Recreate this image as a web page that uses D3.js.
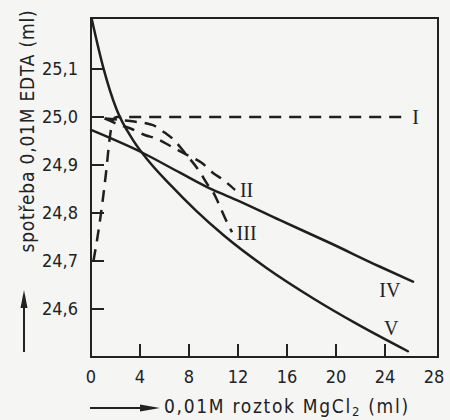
<html>
<head>
<script src="https://d3js.org/d3.v7.min.js"></script>
<style>
body { margin: 0; background: #f5f5f3; }
text {
  font-family: 'DejaVu Sans Condensed', 'Liberation Sans Narrow', 'DejaVu Sans', sans-serif;
  fill: #222;
}
.frame { fill: none; stroke: #222; stroke-width: 2; }
.tick { stroke: #222; stroke-width: 2; }
.curve { fill: none; stroke: #1f1f1f; stroke-width: 2.5; stroke-linecap: round; }
.dashed { stroke-dasharray: 12,8; stroke-linecap: butt; }
.roman { font-family: 'Liberation Serif', 'DejaVu Serif', serif; font-size: 20px; }
</style>
</head>
<body>
<svg></svg>
<script>

var width = 450,
    height = 420;

// tick values / labels
var xTicks = [0, 4, 8, 12, 16, 20, 24, 28];
var yTicks = [24.6, 24.7, 24.8, 24.9, 25.0, 25.1];

// curves: [ml MgCl2, ml EDTA]
var curveI = [[0.2, 24.70], [0.71, 24.78], [1.21, 24.88], [1.55, 24.96], [1.8, 24.995], [2.1, 25.0], [25.75, 25.0]];
var curveII = [[1.1, 24.997], [2.2, 24.985], [3.23, 24.976], [4.44, 24.962], [5.25, 24.956], [6.66, 24.937],
               [8.07, 24.918], [9.06, 24.904], [9.99, 24.883], [10.79, 24.869], [11.76, 24.848]];
var curveIII = [[1.14, 24.997], [3.0, 24.992], [5.06, 24.983], [6.04, 24.967], [6.61, 24.956], [7.67, 24.925],
                [8.9, 24.885], [9.55, 24.858], [9.96, 24.844], [10.29, 24.827], [10.93, 24.79], [11.51, 24.76]];
var curveIV = [[0, 24.973], [4.24, 24.925], [7.26, 24.884], [9.96, 24.848], [11.9, 24.827], [15.43, 24.785],
               [19.47, 24.738], [23.6, 24.688], [26.29, 24.657]];
var curveV = [[0.05, 25.205], [0.98, 25.105], [2.1, 25.015], [3.43, 24.952], [4.65, 24.91], [6.5, 24.858],
              [8.57, 24.805], [10.9, 24.752], [14.3, 24.686], [18.15, 24.622], [21.7, 24.569], [25.87, 24.512]];

var curves = [
  { name: 'I', pts: curveI, dashed: true },
  { name: 'II', pts: curveII, dashed: true },
  { name: 'III', pts: curveIII, dashed: true },
  { name: 'IV', pts: curveIV, dashed: false },
  { name: 'V', pts: curveV, dashed: false }
];

// roman labels next to the curves
var labelNames = ['I', 'II', 'III', 'IV', 'V'];
var labelX = [26.5, 12.7, 12.7, 24.4, 24.5];
var labelY = [25.0, 24.848, 24.758, 24.64, 24.56];

// plot box (note: "top" is taken by window.top)
var boxLeft = 91, boxRight = 438, boxTop = 18, boxBottom = 357;

var x = d3.scaleLinear().domain([0, 28]).range([boxLeft, 434]);
var y = d3.scaleLinear().domain([24.5, 25.2]).range([boxBottom, 21]);

var svg = d3.select('svg')
  .attr('width', width)
  .attr('height', height);

svg.append('rect')
  .attr('width', width)
  .attr('height', height)
  .attr('fill', '#f5f5f3');

// frame
svg.append('rect')
  .attr('class', 'frame')
  .attr('x', boxLeft)
  .attr('y', boxTop)
  .attr('width', boxRight - boxLeft)
  .attr('height', boxBottom - boxTop);

// inward ticks
svg.selectAll('line.xtick')
    .data(xTicks.filter(function(d) { return d > 0 && d < 28; }))
  .enter().append('line')
    .attr('class', 'tick')
    .attr('x1', function(d) { return x(d); })
    .attr('x2', function(d) { return x(d); })
    .attr('y1', boxBottom)
    .attr('y2', boxBottom - 13);

svg.selectAll('line.ytick')
    .data(yTicks)
  .enter().append('line')
    .attr('class', 'tick')
    .attr('x1', boxLeft)
    .attr('x2', boxLeft + 13)
    .attr('y1', function(d) { return y(d); })
    .attr('y2', function(d) { return y(d); });

// tick labels (comma decimals)
svg.selectAll('text.xlab')
    .data(xTicks)
  .enter().append('text')
    .attr('x', function(d) { return x(d); })
    .attr('y', 377)
    .attr('dy', '0.35em')
    .attr('text-anchor', 'middle')
    .style('font-size', '18px')
    .text(function(d) { return d; });

svg.selectAll('text.ylab')
    .data(yTicks)
  .enter().append('text')
    .attr('x', 78)
    .attr('y', function(d) { return y(d); })
    .attr('dy', '0.35em')
    .attr('text-anchor', 'end')
    .style('font-size', '18px')
    .text(function(d) { return d3.format('.1f')(d).replace('.', ','); });

// curves
var line = d3.line()
  .x(function(d) { return x(d[0]); })
  .y(function(d) { return y(d[1]); })
  .curve(d3.curveMonotoneX);

svg.selectAll('path.curve')
    .data(curves)
  .enter().append('path')
    .attr('class', function(d) { return d.dashed ? 'curve dashed' : 'curve'; })
    .attr('d', function(d) { return line(d.pts); });

svg.selectAll('text.roman')
    .data(labelNames)
  .enter().append('text')
    .attr('class', 'roman')
    .attr('x', function(d, i) { return x(labelX[i]); })
    .attr('y', function(d, i) { return y(labelY[i]); })
    .attr('dy', '0.35em')
    .attr('text-anchor', 'middle')
    .text(function(d) { return d; });

// y title with arrow
svg.append('text')
  .attr('transform', 'translate(27,131)rotate(-90)')
  .attr('dy', '0.35em')
  .attr('text-anchor', 'middle')
  .style('font-size', '19px')
  .style('letter-spacing', '0.8px')
  .text('spotřeba 0,01M EDTA (ml)');

svg.append('line')
  .attr('class', 'tick')
  .attr('stroke-width', 1.5)
  .attr('x1', 24).attr('x2', 24)
  .attr('y1', 352).attr('y2', 300);
svg.append('path')
  .attr('d', 'M24,290 L20.5,308 L27.5,308 Z')
  .attr('fill', '#222');

// x title with arrow
svg.append('line')
  .attr('class', 'tick')
  .attr('stroke-width', 1.5)
  .attr('x1', 90).attr('x2', 150)
  .attr('y1', 408).attr('y2', 408);
svg.append('path')
  .attr('d', 'M160,408 L140,404.5 L140,411.5 Z')
  .attr('fill', '#222');

var xt = svg.append('text')
  .attr('x', 164)
  .attr('y', 413)
  .style('font-size', '19px')
  .style('letter-spacing', '1.7px');
xt.append('tspan').text('0,01M roztok MgCl');
xt.append('tspan').attr('dy', 3).style('font-size', '13px').text('2');
xt.append('tspan').attr('dy', -3).text(' (ml)');

</script>
</body>
</html>
